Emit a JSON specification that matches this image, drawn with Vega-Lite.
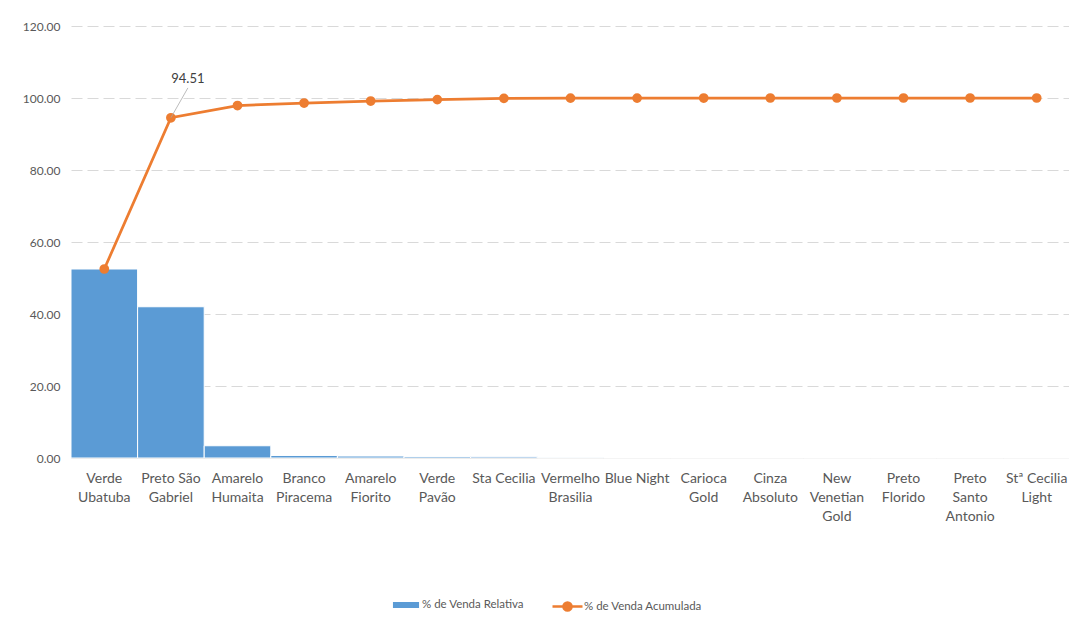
{
  "$schema": "https://vega.github.io/schema/vega-lite/v6.json",
  "width": 999,
  "height": 432,
  "autosize": {"type": "none"},
  "padding": {"left": 71, "top": 26, "right": 0, "bottom": 163},
  "background": "white",
  "config": {
    "view": {"stroke": null},
    "font": "Lato"
  },
  "data": {
    "values": [
      {"produto": "Verde Ubatuba", "rel": 52.50, "acum": 52.50},
      {"produto": "Preto São Gabriel", "rel": 42.01, "acum": 94.51},
      {"produto": "Amarelo Humaita", "rel": 3.40, "acum": 97.91},
      {"produto": "Branco Piracema", "rel": 0.70, "acum": 98.61},
      {"produto": "Amarelo Fiorito", "rel": 0.55, "acum": 99.16},
      {"produto": "Verde Pavão", "rel": 0.40, "acum": 99.56},
      {"produto": "Sta Cecilia", "rel": 0.35, "acum": 99.91},
      {"produto": "Vermelho Brasilia", "rel": 0.05, "acum": 99.96},
      {"produto": "Blue Night", "rel": 0.02, "acum": 99.98},
      {"produto": "Carioca Gold", "rel": 0.01, "acum": 99.99},
      {"produto": "Cinza Absoluto", "rel": 0.01, "acum": 100.00},
      {"produto": "New Venetian Gold", "rel": 0.00, "acum": 100.00},
      {"produto": "Preto Florido", "rel": 0.00, "acum": 100.00},
      {"produto": "Preto Santo Antonio", "rel": 0.00, "acum": 100.00},
      {"produto": "Stª Cecilia Light", "rel": 0.00, "acum": 100.00}
    ]
  },
  "encoding": {
    "x": {
      "field": "produto",
      "type": "nominal",
      "sort": null,
      "scale": {"paddingInner": 0, "paddingOuter": 0},
      "axis": {
        "title": null,
        "labelAngle": 0,
        "ticks": false,
        "domainColor": "#d9d9d9",
        "domainWidth": 1,
        "labelFont": "Lato",
        "labelFontSize": 14,
        "labelColor": "#595959",
        "labelPadding": 13,
        "labelLineHeight": 19,
        "labelOverlap": false,
        "labelBound": false,
        "labelLimit": 0,
        "labelExpr": "(datum.label === 'Sta Cecilia' || datum.label === 'Blue Night') ? datum.label : datum.label === 'Preto São Gabriel' ? ['Preto São', 'Gabriel'] : datum.label === 'Stª Cecilia Light' ? ['Stª Cecilia', 'Light'] : split(datum.label, ' ')"
      }
    }
  },
  "layer": [
    {
      "mark": {"type": "bar", "stroke": "white", "strokeWidth": 1},
      "encoding": {
        "y": {
          "field": "rel",
          "type": "quantitative",
          "scale": {"domain": [0, 120], "nice": false},
          "axis": {
            "title": null,
            "values": [0, 20, 40, 60, 80, 100, 120],
            "format": ".2f",
            "domain": false,
            "ticks": false,
            "grid": true,
            "gridColor": "#d9d9d9",
            "gridDash": [11, 5],
            "gridWidth": 1,
            "labelFont": "Lato",
            "labelFontSize": 12,
            "labelColor": "#595959",
            "labelPadding": 11
          }
        },
        "fill": {
          "datum": "% de Venda Relativa",
          "scale": {"range": ["#5b9bd5"]},
          "legend": {
            "orient": "none",
            "legendX": 320,
            "legendY": 564,
            "direction": "horizontal",
            "title": null,
            "padding": 0,
            "symbolType": "M-0.87,-0.2H0.87V0.2H-0.87Z",
            "symbolSize": 900,
            "symbolOpacity": 1,
            "symbolStrokeWidth": 0,
            "labelFont": "Lato",
            "labelFontSize": 11.5,
            "labelColor": "#595959",
            "labelOffset": 1
          }
        }
      }
    },
    {
      "mark": {
        "type": "line",
        "strokeWidth": 2.75,
        "point": {"filled": true, "size": 60, "fill": "#ed7d31", "color": "#ed7d31"}
      },
      "encoding": {
        "y": {"field": "acum", "type": "quantitative"},
        "stroke": {
          "datum": "% de Venda Acumulada",
          "scale": {"range": ["#ed7d31"]},
          "legend": {
            "orient": "none",
            "legendX": 480,
            "legendY": 564,
            "direction": "horizontal",
            "title": null,
            "padding": 0,
            "symbolType": "M-1,0H1M-0.27,0A0.27,0.27 0 1,1 0.27,0A0.27,0.27 0 1,1 -0.27,0Z",
            "symbolSize": 900,
            "symbolOpacity": 1,
            "symbolFillColor": "#ed7d31",
            "symbolStrokeWidth": 2.5,
            "labelFont": "Lato",
            "labelFontSize": 11.5,
            "labelColor": "#595959",
            "labelOffset": 0,
            "encode": {
              "symbols": {
                "update": {
                  "fill": {"value": "#ed7d31"},
                  "stroke": {"value": "#ed7d31"},
                  "strokeWidth": {"value": 2.5}
                }
              }
            }
          }
        }
      }
    },
    {
      "transform": [{"filter": "datum.produto === 'Preto São Gabriel'"}],
      "mark": {"type": "rule", "color": "#a6a6a6", "strokeWidth": 0.75, "x2Offset": 17},
      "encoding": {
        "x2": {"field": "produto"},
        "y": {"field": "acum", "type": "quantitative"},
        "y2": {"datum": 102.8}
      }
    },
    {
      "transform": [{"filter": "datum.produto === 'Preto São Gabriel'"}],
      "mark": {"type": "text", "dx": 17, "dy": -39, "fontSize": 13, "font": "Lato", "color": "#404040"},
      "encoding": {
        "y": {"field": "acum", "type": "quantitative"},
        "text": {"field": "acum", "type": "quantitative", "format": ".2f"}
      }
    }
  ]
}
